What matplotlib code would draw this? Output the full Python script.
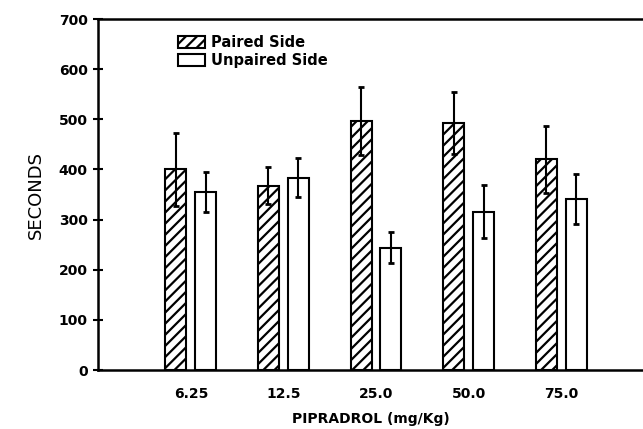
import numpy as np
import matplotlib
matplotlib.use('Agg')
import matplotlib.pyplot as plt

# Datos
dosis = ['6.25', '12.5', '25.0', '50.0', '75.0']
lado_pareado = [400, 368, 496, 492, 420]
err_pareado = [72, 36, 68, 62, 66]
lado_no_pareado = [355, 384, 244, 316, 341]
err_no_pareado = [39, 38, 31, 53, 49]

plt.rcParams['hatch.linewidth'] = 1.6

fig = plt.figure(figsize=(6.43, 4.29), dpi=100)
ax = fig.add_axes([0.1524, 0.1375, 0.8476, 0.818])

x = np.arange(len(dosis))
ancho = 0.227
desp = 0.162

ax.bar(x - desp, lado_pareado, ancho, color='white', edgecolor='black',
       hatch='///', linewidth=1.5, label='Paired Side', zorder=2)
ax.bar(x + desp, lado_no_pareado, ancho, color='white', edgecolor='black',
       linewidth=1.5, label='Unpaired Side', zorder=2)
ax.errorbar(x - desp, lado_pareado, yerr=err_pareado, fmt='none',
            ecolor='black', elinewidth=1.5, capsize=2.5, capthick=2, zorder=3)
ax.errorbar(x + desp, lado_no_pareado, yerr=err_no_pareado, fmt='none',
            ecolor='black', elinewidth=1.5, capsize=2.5, capthick=2, zorder=3)

ax.set_xlim(-1.005, 4.886)
ax.set_ylim(0, 700)
ax.set_yticks(range(0, 701, 100))
ax.set_xticks(x)
ax.set_xticklabels(dosis, fontweight='bold', fontsize=10)
for t in ax.get_yticklabels():
    t.set_fontweight('bold')
    t.set_fontsize(10)
ax.tick_params(axis='x', length=0, pad=12)
ax.tick_params(axis='y', direction='inout', length=7, width=1.5, pad=4)

ax.spines['right'].set_visible(False)
for s in ['left', 'top', 'bottom']:
    ax.spines[s].set_linewidth(1.8)

ax.set_xlabel('PIPRADROL (mg/Kg)', fontweight='bold', fontsize=10, labelpad=8)
ax.set_ylabel('SECONDS', fontsize=13, labelpad=10)

ax.legend(loc='upper left', bbox_to_anchor=(0.133, 0.975), frameon=False,
          prop={'weight': 'bold', 'size': 10.5},
          handlelength=1.9, handleheight=0.9, handletextpad=0.4,
          labelspacing=0.2, borderpad=0)

fig.savefig('out.png', dpi=100)
